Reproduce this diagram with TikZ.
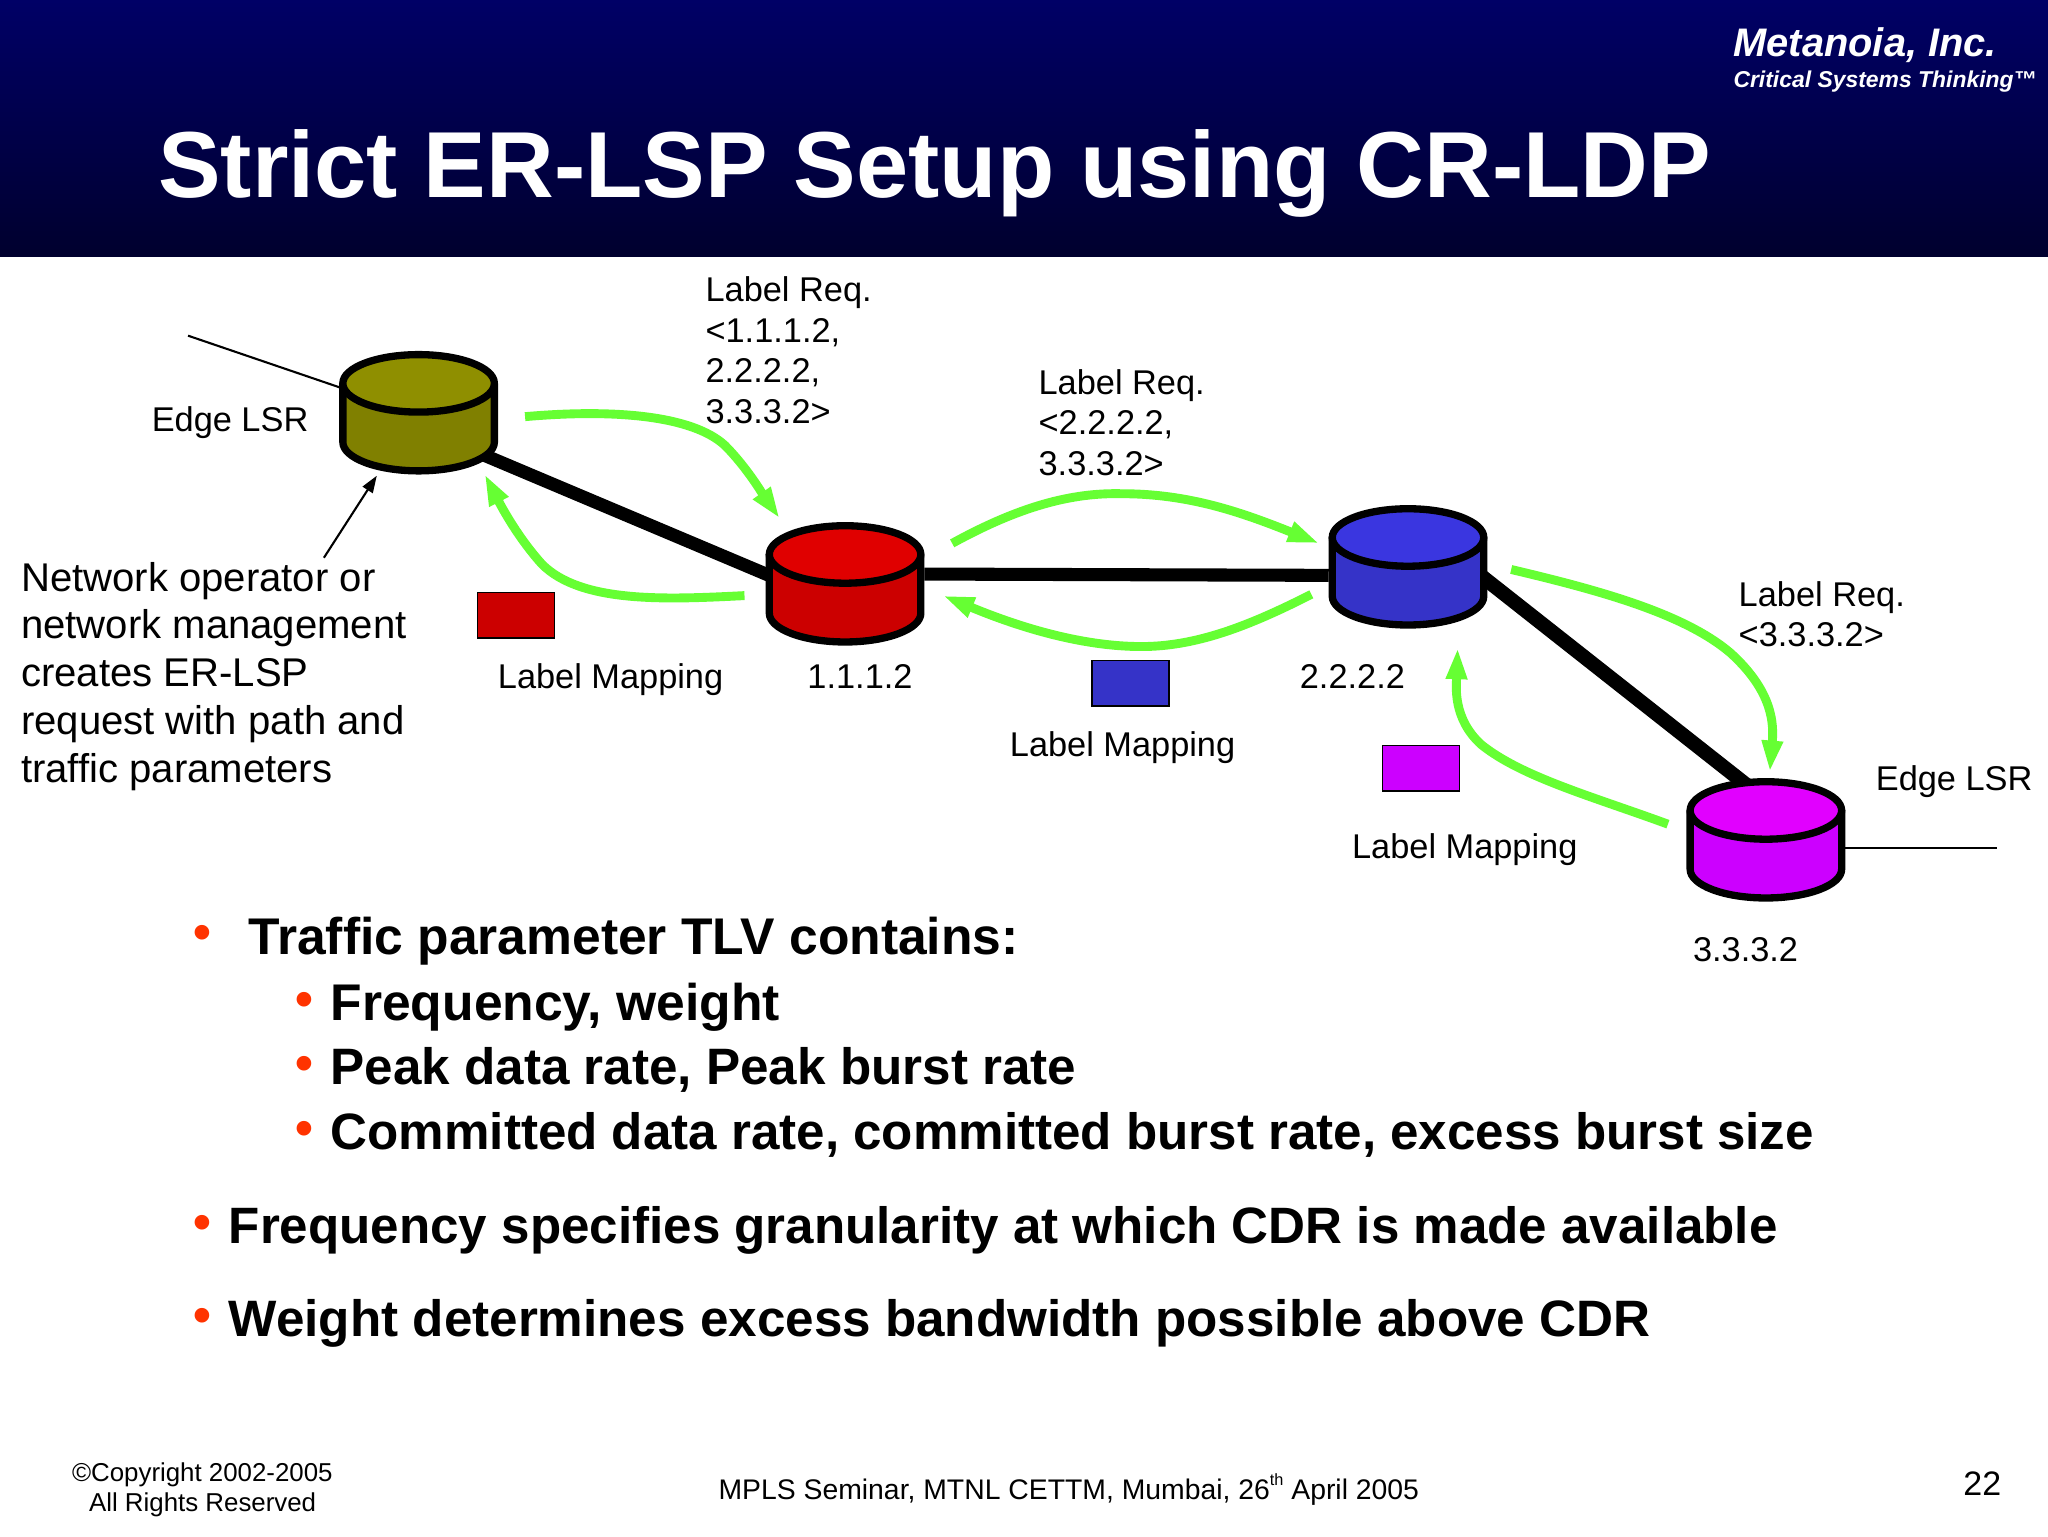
\documentclass[tikz,border=0pt]{standalone}
\usepackage{fontspec}
\setmainfont{Liberation Sans}
\usetikzlibrary{arrows.meta}
\definecolor{lspgreen}{HTML}{66FF33}
\definecolor{bulletred}{HTML}{FF3300}
\definecolor{oliveT}{HTML}{8F8F00}\definecolor{oliveS}{HTML}{808000}
\definecolor{redT}{HTML}{E00000}\definecolor{redS}{HTML}{CC0000}
\definecolor{blueT}{HTML}{3A36E0}\definecolor{blueS}{HTML}{3533C8}
\definecolor{magT}{HTML}{E100FF}\definecolor{magS}{HTML}{CC00FF}
\tikzset{
  lsrbox/.style={inner sep=0pt,minimum width=121pt,minimum height=95pt},
  link/.style={line width=10pt,black},
  thinlink/.style={line width=1.6pt,black},
  msgarrow/.style={line width=6.8pt,lspgreen,-{Triangle[length=24pt,width=15pt]}},
  lbl/.style={inner sep=0pt,anchor=base west,align=left,font=\fontsize{26.3}{31}\selectfont},
  oplbl/.style={inner sep=0pt,anchor=base west,align=left,font=\fontsize{30.7}{36.6}\selectfont},
  bul/.style={inner sep=0pt,anchor=base west,font=\fontsize{39.2}{44}\selectfont\bfseries},
  dot/.style={inner sep=0pt,anchor=base,text=bulletred,font=\fontsize{39}{44}\selectfont\bfseries},
  token/.style={draw=black,line width=1pt,inner sep=0pt,minimum width=59pt,minimum height=35pt},
  foot/.style={inner sep=0pt,anchor=base west,font=\fontsize{19.8}{24}\selectfont},
}
\newcommand{\lsrcyl}[5]{%
  \node[lsrbox] (#1) at (#2,#3) {};
  \begin{scope}[shift={(#1.center)},line width=5.6pt,line join=round]
    \filldraw[fill=#5,draw=black] (-58,-22) -- (-58,23) arc[start angle=180,end angle=360,x radius=58pt,y radius=22pt] -- (58,-22) -- cycle;
    \filldraw[fill=#4,draw=black] (0,-22) ellipse[x radius=58pt,y radius=22pt];
  \end{scope}}
\begin{document}
\begin{tikzpicture}[x=1pt,y=-1pt]
\useasboundingbox (0,0) rectangle (1568,1176);
\fill[white] (0,0) rectangle (1568,1176);
\shade[top color=black!0!blue!40!black,bottom color=blue!18!black] (0,0) rectangle (1568,196);
\node[inner sep=0pt,anchor=base west,text=white,font=\fontsize{71.8}{80}\selectfont\bfseries] (title) at (121,151) {Strict ER-LSP Setup using CR-LDP};
\node[inner sep=0pt,anchor=base west,text=white,font=\fontsize{30.5}{34}\selectfont\bfseries\itshape] (brand) at (1327,43) {Metanoia, Inc.};
\node[inner sep=0pt,anchor=base west,text=white,font=\fontsize{17.55}{22}\selectfont\bfseries\itshape] (tagline) at (1327,67) {Critical Systems Thinking™};

% nodes placed first so links can go behind the cylinders
\node[lsrbox] (r0) at (320.5,315.5) {};
\node[lsrbox] (r1) at (647,446.5) {};
\node[lsrbox] (r2) at (1078,433.5) {};
\node[lsrbox] (r3) at (1352,642.5) {};
\coordinate (wanL) at (144,257);
\coordinate (wanR) at (1529,649);
\draw[link] ([xshift=-20pt,yshift=-29pt]r0.east) -- ([xshift=6pt,yshift=4.5pt]r1.west);
\draw[link] ([yshift=7pt]r1.east) -- ([yshift=-7pt]r2.west);
\draw[link,line width=11pt] ([xshift=-14pt]r2.east) -- ([xshift=-15pt,yshift=-6pt]r3.north);
\draw[thinlink] (wanL) -- ([yshift=19pt]r0.west);
\draw[thinlink] ([yshift=-6.5pt]r3.east) -- (wanR);

\lsrcyl{r0}{320.5}{315.5}{oliveT}{oliveS}
\lsrcyl{r1}{647}{446.5}{redT}{redS}
\lsrcyl{r2}{1078}{433.5}{blueT}{blueS}
\lsrcyl{r3}{1352}{642.5}{magT}{magS}

% message arrows
\coordinate (a1s) at (402,319); \coordinate (a1e) at (597,397);
\coordinate (a2s) at (570,456); \coordinate (a2e) at (371,363);
\coordinate (a3s) at (729,416); \coordinate (a3e) at (1010,416);
\coordinate (a4s) at (1004,455); \coordinate (a4e) at (722,456);
\coordinate (a5s) at (1157,436); \coordinate (a5e) at (1355,591);
\coordinate (a6s) at (1277,631); \coordinate (a6e) at (1116,496);
\draw[msgarrow] (a1s) .. controls (470,313) and (530,318) .. (555,341) .. controls (572,358) and (585,380) .. (a1e);
\draw[msgarrow] (a2s) .. controls (510,459) and (445,462) .. (415,432) .. controls (397,412) and (385,390) .. (a2e);
\draw[msgarrow] (a3s) .. controls (780,388) and (820,377) .. (859,378) .. controls (910,378) and (950,392) .. (a3e);
\draw[msgarrow] (a4s) .. controls (955,480) and (915,495) .. (874,495) .. controls (825,495) and (775,478) .. (a4e);
\draw[msgarrow] (a5s) .. controls (1225,452) and (1290,470) .. (1325,500) .. controls (1358,530) and (1358,555) .. (a5e);
\draw[msgarrow] (a6s) .. controls (1220,610) and (1165,595) .. (1134,570) .. controls (1112,550) and (1115,525) .. (a6e);

% operator arrow
\node[oplbl] (oper) at (16,599) {Network operator or\\network management\\creates ER-LSP\\request with path and\\traffic parameters};
\coordinate (operTip) at (248,427);
\draw[line width=1.6pt,-{Triangle[length=13pt,width=9pt]}] (operTip) -- ([xshift=-32pt,yshift=-1pt]r0.south);

% tokens
\node[token,fill=redS] (t1) at (395,471) {};
\node[token,fill=blueS] (t2) at (865.5,523) {};
\node[token,fill=magS] (t3) at (1088,588) {};

% labels
\node[lbl] (e0) at (116,330) {Edge LSR};
\node[lbl] (e3) at (1436,605) {Edge LSR};
\node[lbl] (q1) at (540,324) {Label Req.\\<1.1.1.2,\\2.2.2.2,\\3.3.3.2>};
\node[lbl] (q2) at (795,364) {Label Req.\\<2.2.2.2,\\3.3.3.2>};
\node[lbl] (q3) at (1331,495) {Label Req.\\<3.3.3.2>};
\node[lbl] (m1) at (381,527) {Label Mapping};
\node[lbl] (m2) at (773,579) {Label Mapping};
\node[lbl] (m3) at (1035,657) {Label Mapping};
\node[lbl] (i1) at (618,527) {1.1.1.2};
\node[lbl] (i2) at (995,527) {2.2.2.2};
\node[lbl] (i3) at (1296,736) {3.3.3.2};

% bullets
\node[dot] (d1) at (155,727) {•};
\node[dot] (d2) at (233,778) {•};
\node[dot] (d3) at (233,827) {•};
\node[dot] (d4) at (233,877) {•};
\node[dot] (d5) at (155,949) {•};
\node[dot] (d6) at (155,1020) {•};
\node[bul,font=\fontsize{39.5}{44}\selectfont\bfseries] (b1) at (190,731) {Traffic parameter TLV contains:};
\node[bul,font=\fontsize{39.5}{44}\selectfont\bfseries] (b2) at (253,781) {Frequency, weight};
\node[bul] (b3) at (253,830) {Peak data rate, Peak burst rate};
\node[bul,font=\fontsize{39.15}{44}\selectfont\bfseries] (b4) at (253,880) {Committed data rate, committed burst rate, excess burst size};
\node[bul,font=\fontsize{39.15}{44}\selectfont\bfseries] (b5) at (175,952) {Frequency specifies granularity at which CDR is made available};
\node[bul] (b6) at (175,1023) {Weight determines excess bandwidth possible above CDR};

% footer
\node[foot] (c1) at (55,1134) {©Copyright 2002-2005};
\node[foot] (c2) at (68,1157) {All Rights Reserved};
\node[foot,font=\fontsize{21.7}{24}\selectfont] (c3) at (550,1148) {MPLS Seminar, MTNL CETTM, Mumbai, 26\raisebox{0.5em}{\fontsize{12.5}{14}\selectfont th} April 2005};
\node[inner sep=0pt,anchor=base west,font=\fontsize{26}{30}\selectfont] (pg) at (1503,1145) {22};
\end{tikzpicture}
\end{document}
